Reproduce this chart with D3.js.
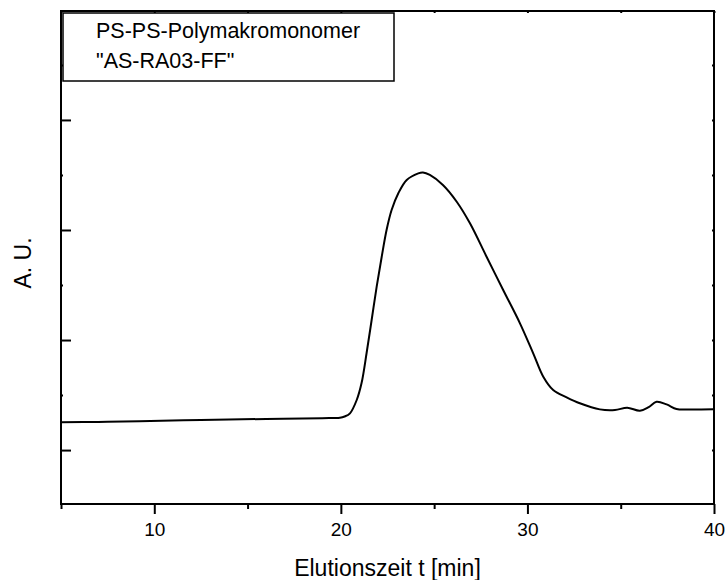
<!DOCTYPE html>
<html>
<head>
<meta charset="utf-8">
<script src="https://cdn.jsdelivr.net/npm/d3@7"></script>
<style>
  body { margin: 0; background: #fff; }
  svg { display: block; font-family: "Liberation Sans", Arial, sans-serif; }
</style>
</head>
<body>
<svg id="chart" width="725" height="580"></svg>
<script>
// Elution time (min) and detector signal (arbitrary units)
const times = [5, 7, 9.2, 12.5, 16, 19, 19.95, 20.2, 20.49, 20.85, 21.11, 21.38, 21.65, 21.92,
  22.19, 22.45, 22.72, 23.08, 23.53, 24.15, 24.4, 24.77, 25.47, 26.21, 26.92, 27.81, 28.70,
  29.60, 30.31, 30.85, 31.38, 32.10, 32.81, 33.88, 34.69, 35.35, 36.03, 36.5, 36.92, 37.46,
  37.99, 38.6, 39.96];
const signal = [0.252, 0.256, 0.263, 0.273, 0.283, 0.290, 0.294, 0.305, 0.334, 0.455, 0.609,
  0.882, 1.182, 1.485, 1.757, 2.0, 2.182, 2.334, 2.455, 2.515, 2.523, 2.5, 2.409, 2.257, 2.061,
  1.757, 1.455, 1.152, 0.879, 0.666, 0.545, 0.479, 0.425, 0.370, 0.364, 0.385, 0.357, 0.39,
  0.439, 0.415, 0.373, 0.368, 0.370];

const xMajorTicks = [10, 20, 30, 40];
const xMinorTicks = [5, 15, 25, 35];
const yMajorTicks = [0, 1, 2, 3];
const yMinorTicks = [0.5, 1.5, 2.5, 3.5];

const legendLines = ["PS-PS-Polymakromonomer", "\"AS-RA03-FF\""];
const xTitle = "Elutionszeit t [min]";
const yTitle = "A. U.";

const svg = d3.select("#chart");
const plotLeft = 61, plotRight = 714, plotTop = 11, plotBottom = 504;

const x = d3.scaleLinear().domain([5, 40]).range([plotLeft, plotRight]);
const y = d3.scaleLinear().domain([-0.49, 3.99]).range([plotBottom, plotTop]);

function styleTicks(g) {
  g.select(".domain").remove();
  g.selectAll("line").attr("stroke", "#000").attr("stroke-width", 2);
}

// Bottom axis: labelled major ticks and shorter minor ticks, pointing outward
const gx = svg.append("g").attr("transform", `translate(0,${plotBottom})`);
gx.call(d3.axisBottom(x).tickValues(xMajorTicks).tickSize(10).tickPadding(9).tickFormat(d3.format("d")))
  .call(styleTicks)
  .call(g => g.selectAll("text").attr("font-size", 19).attr("fill", "#000")
    .attr("font-family", "Liberation Sans, Arial, sans-serif"));
gx.append("g").call(d3.axisBottom(x).tickValues(xMinorTicks).tickSize(5).tickFormat(""))
  .call(styleTicks);

// Top axis: tiny ticks only
svg.append("g").attr("transform", `translate(0,${plotTop})`)
  .call(d3.axisTop(x).tickValues(xMajorTicks.concat(xMinorTicks)).tickSize(-2).tickFormat(""))
  .call(styleTicks);

// Left axis: unlabelled major ticks pointing inward, tiny minor ticks
svg.append("g").attr("transform", `translate(${plotLeft},0)`)
  .call(d3.axisLeft(y).tickValues(yMajorTicks).tickSize(-10).tickFormat(""))
  .call(styleTicks);
svg.append("g").attr("transform", `translate(${plotLeft},0)`)
  .call(d3.axisLeft(y).tickValues(yMinorTicks).tickSize(-2).tickFormat(""))
  .call(styleTicks);

// Right axis: tiny ticks
svg.append("g").attr("transform", `translate(${plotRight},0)`)
  .call(d3.axisRight(y).tickValues(yMajorTicks.concat(yMinorTicks)).tickSize(-2).tickFormat(""))
  .call(styleTicks);

// Plot frame
svg.append("rect")
  .attr("x", plotLeft).attr("y", plotTop)
  .attr("width", plotRight - plotLeft).attr("height", plotBottom - plotTop)
  .attr("fill", "none").attr("stroke", "#000").attr("stroke-width", 2);

// Chromatogram trace
const pts = times.map((t, i) => [t, signal[i]]);
svg.append("path")
  .datum(pts)
  .attr("fill", "none")
  .attr("stroke", "#000")
  .attr("stroke-width", 2)
  .attr("stroke-linejoin", "round")
  .attr("d", d3.line().x(d => x(d[0])).y(d => y(d[1])).curve(d3.curveCatmullRom.alpha(0.5)));

// Legend box
const lg = svg.append("g");
lg.append("rect")
  .attr("x", 63).attr("y", 13).attr("width", 331).attr("height", 68)
  .attr("fill", "#fff").attr("stroke", "#000").attr("stroke-width", 1.5);
lg.selectAll("text").data(legendLines).join("text")
  .attr("x", 96).attr("y", (d, i) => 38 + i * 30)
  .attr("font-size", 21.5).attr("fill", "#000")
  .text(d => d);

// Axis titles
svg.append("text")
  .attr("x", (plotLeft + plotRight) / 2).attr("y", 576)
  .attr("text-anchor", "middle").attr("font-size", 23).attr("fill", "#000")
  .text(xTitle);
svg.append("text")
  .attr("transform", `translate(31,263) rotate(-90)`)
  .attr("text-anchor", "middle").attr("font-size", 23).attr("fill", "#000")
  .text(yTitle);
</script>
</body>
</html>
